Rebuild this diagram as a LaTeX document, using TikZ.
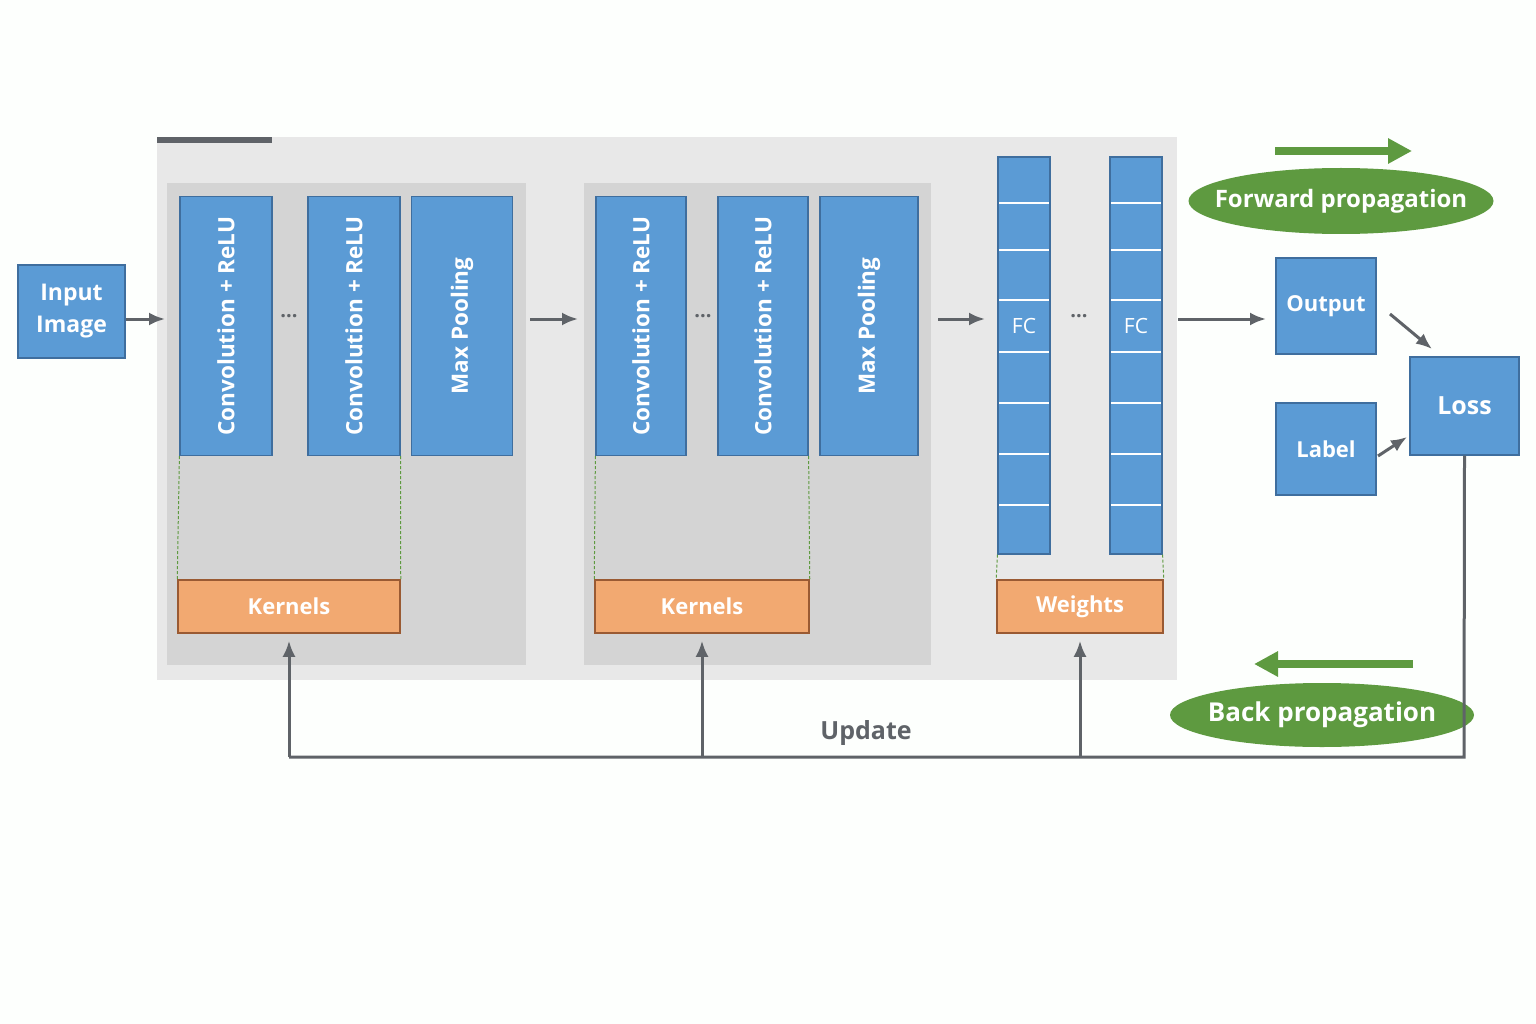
\documentclass[tikz,border=0pt]{standalone}
\usepackage{fontspec}
\setmainfont{Open Sans}
\usetikzlibrary{positioning,shapes.geometric,arrows.meta}
\definecolor{boxblue}{HTML}{5B9BD5}
\definecolor{boxedge}{HTML}{3F6E9E}
\definecolor{kern}{HTML}{F2A971}
\definecolor{kernedge}{HTML}{9A5A33}
\definecolor{leaf}{HTML}{5E9A40}
\definecolor{arrowgray}{HTML}{5F6368}
\tikzset{
  blk/.style={draw=boxedge,fill=boxblue,text=white,font=\bfseries\fontsize{22}{26}\selectfont,inner sep=0pt,line width=1.2pt},
  orange/.style={draw=kernedge,fill=kern,text=white,font=\bfseries\fontsize{22}{26}\selectfont,inner sep=0pt,line width=1.5pt},
  oval/.style={ellipse,fill=leaf,text=white,font=\bfseries\fontsize{24}{28}\selectfont,inner xsep=-25pt,inner ysep=-4pt},
  flow/.style={-{Latex[length=16pt,width=13pt]},arrowgray,line width=3pt},
  guide/.style={densely dashed,leaf,line width=1pt},
  more/.style={text=arrowgray,font=\bfseries\fontsize{20}{20}\selectfont},
}
\begin{document}
\begin{tikzpicture}[x=1pt,y=-1pt]
\useasboundingbox (0,0) rectangle (1536,1024);
\fill[white!97!green!30!white] (0,0) rectangle (1536,1024);
% panels
\fill[black!9] (157,137) rectangle (1177,680);
\fill[arrowgray] (157,137) rectangle (272,143);
\fill[black!17] (167,183) rectangle (526,665);
\fill[black!17] (584,183) rectangle (931,665);

% conv blocks
\foreach \name/\x/\w/\txt in {ca/226/92/{Convolution + ReLU},cb/354/92/{Convolution + ReLU},pa/462/101/{Max Pooling},
  cc/641/90/{Convolution + ReLU},cd/763/90/{Convolution + ReLU},pb/869/98/{Max Pooling}}{
  \node[blk,minimum width=\w pt,minimum height=259pt] (\name) at (\x,326) {};
  \node[text=white,font=\bfseries\fontsize{22.5}{24}\selectfont,rotate=90] at (\name) {\txt};
}
\node[more] (d1) at (289,316) {...};
\node[more] (d2) at (703,316) {...};
\node[more] (d3) at (1079,316) {...};

% fully connected columns
\foreach \name/\x in {fa/1024,fb/1136}{
  \node[blk,minimum width=52pt,minimum height=397pt] (\name) at (\x,355.5) {};
  \foreach \y in {203,250,300,352,403,454,505}
    \draw[white,line width=1.5pt] (\x-25,\y) -- (\x+25,\y);
  \node[text=white,font=\fontsize{21}{24}\selectfont] at (\x,326) {FC};
}

% kernels and weights
\node[orange,minimum width=222pt,minimum height=53pt] (ka) at (289,606.5) {Kernels};
\node[orange,minimum width=214pt,minimum height=53pt] (kb) at (702,606.5) {Kernels};
\node[orange,minimum width=166pt,minimum height=53pt] (wt) at (1080,606.5) {Weights};
\draw[guide] (ca.south west) -- (ka.north west);
\draw[guide] (cb.south east) -- (ka.north east);
\draw[guide] (cc.south west) -- (kb.north west);
\draw[guide] (cd.south east) -- (kb.north east);
\draw[guide] (fa.south west) -- (wt.north west);
\draw[guide] (fb.south east) -- (wt.north east);

% input and outputs
\node[blk,minimum width=107pt,minimum height=93pt,align=center,font=\bfseries\fontsize{23}{32}\selectfont] (img) at (71.5,311.5) {Input\\Image};
\node[blk,minimum width=100pt,minimum height=96pt] (out) at (1326,306) {Output};
\node[blk,minimum width=100pt,minimum height=92pt] (lab) at (1326,449) {Label};
\node[blk,minimum width=109pt,minimum height=98pt,font=\bfseries\fontsize{25}{28}\selectfont] (loss) at (1464.5,406) {Loss};

\coordinate (c1) at (165,319);
\coordinate (c2) at (530,319);
\coordinate (c3) at (578,319);
\coordinate (c4) at (938,319);
\coordinate (c5) at (985,319);
\coordinate (c6) at (1178,319);
\coordinate (c7) at (1266,319);
\draw[flow] (img.east |- c1) -- (c1);
\draw[flow] (c2) -- (c3);
\draw[flow] (c4) -- (c5);
\draw[flow] (c6) -- (c7);
\draw[flow] (1390,314) -- (1432,349);
\draw[flow] (1378,456) -- (1407,437);

% propagation legend
\draw[-{Triangle[length=24pt,width=24pt]},leaf,line width=8pt] (1275,151) -- (1412,151);
\node[oval,minimum width=305pt,minimum height=66pt] (fwd) at (1341,201) {Forward propagation};
\draw[-{Triangle[length=24pt,width=24pt]},leaf,line width=8pt] (1413,664) -- (1254,664);
\node[oval,minimum width=304pt,minimum height=64pt,font=\bfseries\fontsize{26}{30}\selectfont] (bwd) at (1322,715) {Back propagation};

% update loop
\coordinate (bot) at (1464,757);
\draw[arrowgray,line width=3pt] (loss.south) -- (bot) -- (289,757);
\draw[flow] (289,757) -- ([yshift=-7pt]ka.south);
\draw[flow] (702,757) -- ([yshift=-7pt]kb.south);
\draw[flow] (1080,757) -- ([yshift=-7pt]wt.south);
\node[text=arrowgray,font=\bfseries\fontsize{25}{28}\selectfont] at (866,733) {Update};
\end{tikzpicture}
\end{document}
